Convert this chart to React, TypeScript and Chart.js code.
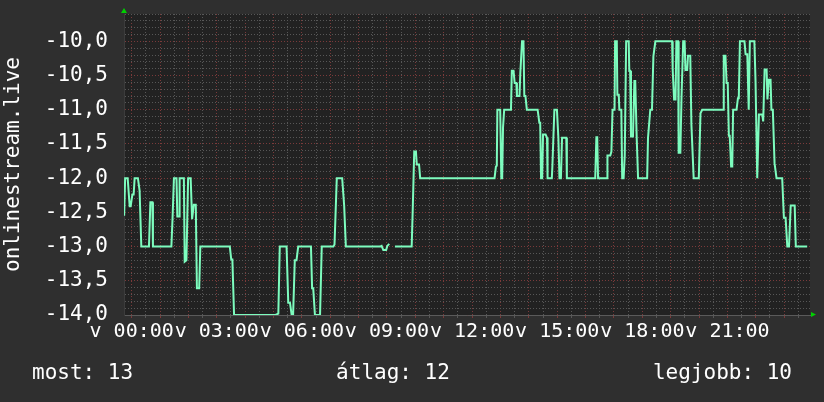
import React, { useEffect, useRef } from 'react';
import { Chart, registerables } from 'chart.js';

Chart.register(...registerables);

// time of each sample, in hours after 00:00
const hours: number[] = [
  -0.265, -0.23, -0.14, -0.07, -0.035, 0.025, 0.07, 0.105, 0.22, 0.28,
  0.34, 0.61, 0.66, 0.73, 0.75, 1.4, 1.44, 1.49, 1.58, 1.61,
  1.67, 1.69, 1.84, 1.87, 1.93, 1.99, 2.08, 2.13, 2.19, 2.26,
  2.3, 2.38, 2.42, 3.46, 3.51, 3.55, 3.61, 5.07, 5.17, 5.22,
  5.46, 5.52, 5.58, 5.64, 5.69, 5.75, 5.81, 5.87, 6.32, 6.36,
  6.4, 6.46, 6.64, 6.7, 7.11, 7.15, 7.23, 7.42, 7.49, 7.55,
  8.75, 8.81, 8.87, 8.97, 9.01, 9.08, 9.15, 9.28, 9.87, 9.91,
  9.96, 10.02, 10.05, 10.13, 10.17, 12.79, 12.84, 12.87, 12.89, 12.99,
  13.03, 13.06, 13.09, 13.13, 13.37, 13.4, 13.46, 13.5, 13.56, 13.58,
  13.67, 13.7, 13.76, 13.81, 13.84, 13.88, 13.93, 14.31, 14.37, 14.4,
  14.43, 14.47, 14.5, 14.59, 14.64, 14.66, 14.81, 14.83, 14.9, 14.99,
  15.04, 15.08, 15.13, 15.17, 15.32, 15.34, 16.34, 16.38, 16.41, 16.44,
  16.76, 16.77, 16.87, 16.91, 16.95, 17.02, 17.04, 17.1, 17.12, 17.17,
  17.19, 17.26, 17.29, 17.34, 17.38, 17.43, 17.52, 17.54, 17.57, 17.6,
  17.67, 17.72, 17.75, 17.8, 17.85, 18.17, 18.2, 18.28, 18.34, 18.39,
  18.46, 19.05, 19.07, 19.12, 19.17, 19.2, 19.26, 19.28, 19.34, 19.38,
  19.44, 19.49, 19.52, 19.58, 19.61, 19.69, 19.73, 19.81, 19.99, 20.05,
  20.11, 20.85, 20.87, 20.93, 20.97, 21.01, 21.05, 21.08, 21.13, 21.17,
  21.2, 21.32, 21.37, 21.4, 21.44, 21.6, 21.64, 21.7, 21.75, 21.79,
  21.95, 21.99, 22.05, 22.07, 22.11, 22.23, 22.26, 22.31, 22.38, 22.41,
  22.46, 22.52, 22.55, 22.6, 22.66, 22.73, 22.93, 22.99, 23.05, 23.11,
  23.17, 23.23, 23.37, 23.41, 23.81,
];

// plotted value at each sample (null = no data)
const values: (number | null)[] = [
  -12.55, -12.0, -12.0, -12.41, -12.41, -12.24, -12.24, -12.0, -12.0, -12.18,
  -13.0, -13.0, -12.35, -12.35, -13.0, -13.0, -12.6, -12.0, -12.0, -12.56,
  -12.56, -12.0, -12.0, -13.22, -13.2, -12.0, -12.0, -12.6, -12.39, -12.39,
  -13.61, -13.61, -13.0, -13.0, -13.19, -13.19, -14.0, -14.0, -13.98, -13.0,
  -13.0, -13.82, -13.82, -14.0, -14.0, -13.2, -13.2, -13.0, -13.0, -13.61,
  -13.61, -14.0, -14.0, -13.0, -13.0, -12.97, -12.0, -12.0, -12.4, -13.0,
  -13.0, -12.99, -13.05, -13.05, -12.99, -12.96, null, -13.0, -13.0, -12.42,
  -11.61, -11.61, -11.8, -11.8, -12.0, -12.0, -11.83, -11.82, -11.0, -11.0,
  -12.0, -12.0, -11.26, -11.0, -11.0, -10.43, -10.43, -10.61, -10.61, -10.8,
  -10.8, -10.46, -10.0, -10.0, -10.8, -10.8, -11.0, -11.0, -11.19, -11.19,
  -12.0, -12.0, -11.36, -11.36, -11.41, -12.0, -12.0, -11.82, -11.0, -11.0,
  -11.41, -12.0, -12.0, -11.41, -11.41, -12.0, -12.0, -11.4, -11.4, -12.0,
  -12.0, -11.67, -11.67, -11.61, -11.0, -11.0, -10.0, -10.0, -10.78, -10.78,
  -11.0, -11.0, -12.0, -12.0, -11.67, -10.0, -10.0, -10.43, -10.43, -11.39,
  -11.39, -10.58, -10.58, -11.39, -12.0, -12.0, -11.41, -11.0, -11.0, -10.22,
  -10.0, -10.0, -10.41, -10.85, -10.85, -10.0, -10.0, -11.63, -11.63, -10.83,
  -10.0, -10.0, -10.42, -10.42, -10.21, -10.21, -11.22, -12.0, -12.0, -11.05,
  -11.0, -11.0, -10.21, -10.21, -10.61, -10.61, -11.38, -11.38, -11.83, -11.83,
  -11.0, -11.0, -10.83, -10.83, -10.0, -10.0, -10.19, -10.19, -11.0, -10.0,
  -10.0, -10.58, -12.0, -12.0, -11.07, -11.07, -11.17, -10.41, -10.41, -10.85,
  -10.56, -10.56, -11.0, -11.0, -11.78, -12.0, -12.0, -12.58, -12.58, -13.0,
  -13.0, -12.4, -12.4, -13.0, -13.0,
];

const xLabelHours: number[] = [0, 3, 6, 9, 12, 15, 18, 21];
const xLabelTexts: string[] = ['v 00:00', 'v 03:00', 'v 06:00', 'v 09:00', 'v 12:00', 'v 15:00', 'v 18:00', 'v 21:00'];
const xMin = -0.27;
const xMax = 23.91;
const yMin = -14.0;
const yMax = -9.6;
const yAxisTitle = 'onlinestream.live';
const legendTexts: string[] = ['most: 13', 'átlag: 12', 'legjobb: 10'];

const FONT = '"DejaVu Sans Mono", monospace';
const MAJOR = '#7a3a3a';
const MINOR = '#575757';

const rrdPlugin = {
  id: 'rrdDecor',
  beforeDraw(chart: any) {
    const { ctx, chartArea: a } = chart;
    ctx.save();
    ctx.fillStyle = '#222222';
    ctx.fillRect(a.left, a.top, a.right - a.left, a.bottom - a.top);
    ctx.restore();
  },
  afterDraw(chart: any) {
    const { ctx, chartArea: a } = chart;
    ctx.save();
    // arrows
    ctx.fillStyle = '#00d000';
    ctx.beginPath();
    ctx.moveTo(a.left - 3, a.top - 1);
    ctx.lineTo(a.left + 3, a.top - 1);
    ctx.lineTo(a.left, a.top - 6);
    ctx.closePath();
    ctx.fill();
    ctx.beginPath();
    ctx.moveTo(a.right + 1, a.bottom - 3);
    ctx.lineTo(a.right + 1, a.bottom + 2);
    ctx.lineTo(a.right + 6, a.bottom - 0.5);
    ctx.closePath();
    ctx.fill();
    // legend line
    ctx.fillStyle = '#ffffff';
    ctx.font = '21px ' + FONT;
    ctx.textBaseline = 'middle';
    const ly = 374;
    ctx.textAlign = 'left';
    ctx.fillText(legendTexts[0], 32, ly);
    ctx.textAlign = 'center';
    ctx.fillText(legendTexts[1], 393, ly);
    ctx.textAlign = 'right';
    ctx.fillText(legendTexts[2], 792, ly);
    ctx.restore();
  },
};

export default function App() {
  const ref = useRef<HTMLCanvasElement | null>(null);

  useEffect(() => {
    const canvas = ref.current;
    if (!canvas) return;
    const points = hours.map((h, i) => ({ x: h, y: values[i] }));
    const chart = new Chart(canvas, {
      type: 'line',
      data: {
        datasets: [
          {
            data: points as any,
            borderColor: '#7dfcbe',
            borderWidth: 2,
            pointRadius: 0,
            pointHoverRadius: 0,
            tension: 0,
            fill: false,
            spanGaps: false,
          },
        ],
      },
      options: {
        animation: false,
        responsive: false,
        maintainAspectRatio: false,
        events: [],
        layout: { padding: { left: 0, top: 14, right: 14, bottom: 0 } },
        plugins: { legend: { display: false }, tooltip: { enabled: false } },
        scales: {
          x: {
            type: 'linear',
            min: xMin,
            max: xMax,
            afterBuildTicks: (axis: any) => {
              const t = [];
              for (let i = 0; i <= 47; i++) t.push({ value: i * 0.5 });
              axis.ticks = t;
            },
            afterFit: (s: any) => {
              s.height = 87;
              s.paddingLeft = 0;
              s.paddingRight = 0;
            },
            grid: {
              color: (c: any) => (c.tick && Number.isInteger(c.tick.value) ? MAJOR : MINOR),
              tickColor: (c: any) => (c.tick && Number.isInteger(c.tick.value) ? MAJOR : MINOR),
              drawTicks: true,
              tickLength: 3,
              lineWidth: 1,
            },
            border: { display: true, color: '#5a5a5a', width: 1, dash: [1, 2] },
            ticks: {
              autoSkip: false,
              maxRotation: 0,
              minRotation: 0,
              padding: 2,
              color: '#ffffff',
              font: { family: FONT, size: 20 },
              callback: (v: any) => {
                const idx = xLabelHours.indexOf(Number(v));
                return idx >= 0 ? xLabelTexts[idx] : '';
              },
            },
          },
          y: {
            type: 'linear',
            min: yMin,
            max: yMax,
            afterBuildTicks: (axis: any) => {
              const t = [];
              const n = Math.round((yMax - yMin) * 10);
              for (let i = 0; i <= n; i++) t.push({ value: Math.round((yMin + i * 0.1) * 10) / 10 });
              axis.ticks = t;
            },
            afterFit: (s: any) => {
              s.width = 124;
              s.paddingTop = 0;
              s.paddingBottom = 0;
            },
            grid: {
              color: (c: any) => (c.tick && Math.round(c.tick.value * 10) % 5 === 0 ? MAJOR : MINOR),
              drawTicks: false,
              lineWidth: 1,
            },
            border: { display: true, color: '#3c3c3c', width: 1, dash: [1, 2] },
            title: {
              display: true,
              text: yAxisTitle,
              color: '#ffffff',
              font: { family: FONT, size: 21 },
              padding: { top: 1, bottom: 0 },
            },
            ticks: {
              autoSkip: false,
              padding: 16,
              color: '#ffffff',
              font: { family: FONT, size: 21 },
              callback: (v: any) => {
                const n = Math.round(Number(v) * 10);
                if (n % 5 !== 0) return '';
                return (n / 10).toFixed(1).replace('.', ',');
              },
            },
          },
        },
      },
      plugins: [rrdPlugin],
    });
    return () => chart.destroy();
  }, []);

  return (
    <div
      style={{
        position: 'fixed',
        left: 0,
        top: 0,
        width: 824,
        height: 402,
        background: '#2f2f2f',
      }}
    >
      <canvas ref={ref} width={824} height={402} style={{ display: 'block' }} />
    </div>
  );
}
